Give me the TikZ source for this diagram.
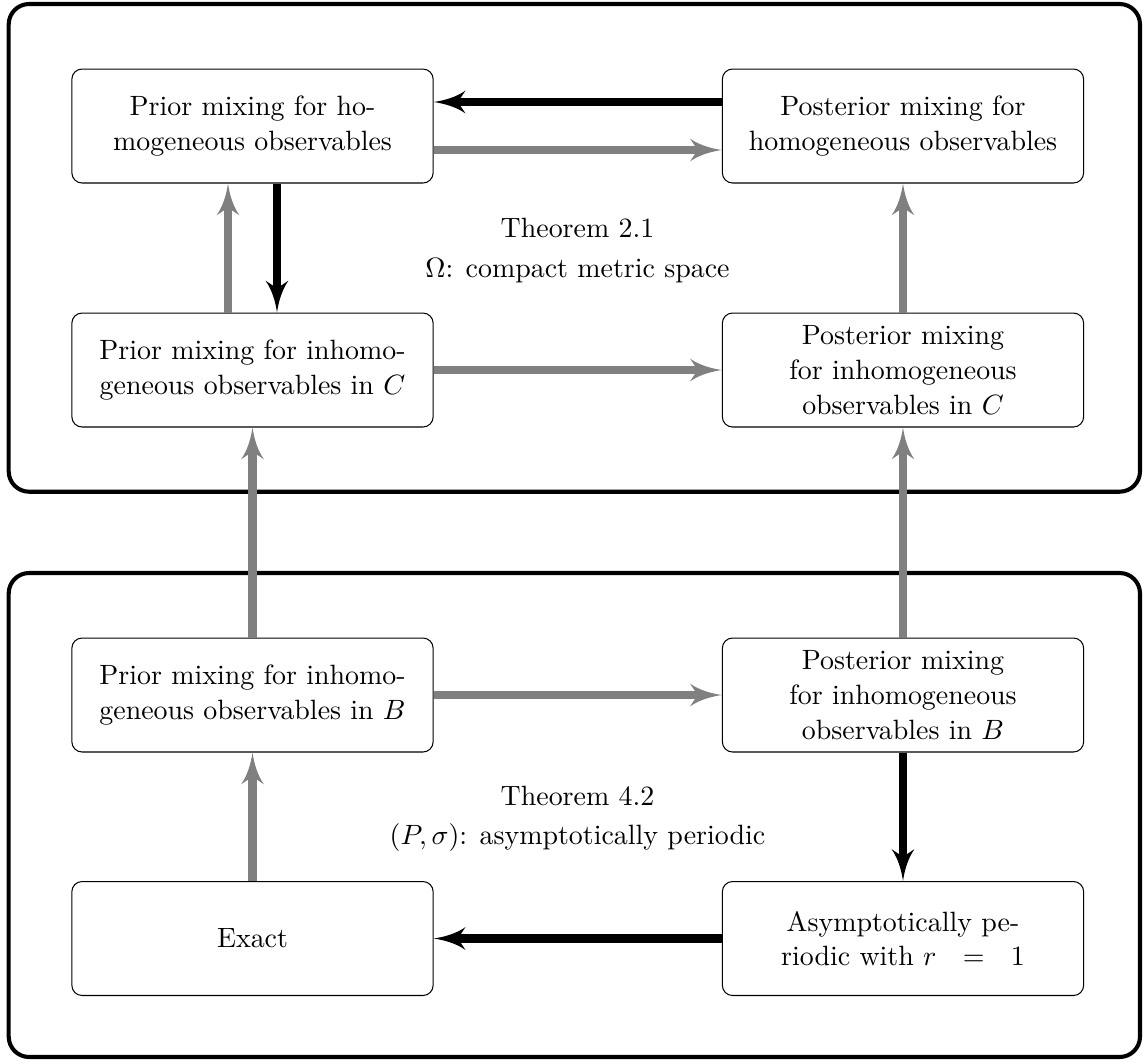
\documentclass[tikz,border=0pt]{standalone}
\usetikzlibrary{arrows.meta,calc}
\pgfdeclarearrow{
  name = CurvedStealth,
  parameters = {\the\pgfarrowlength,\the\pgfarrowwidth,\the\pgfarrowinset},
  setup code = {
    \pgfarrowssettipend{\pgfarrowlength}
    \pgfarrowssetlineend{\pgfarrowinset}
    \pgfarrowssetbackend{0pt}
    \pgfarrowshullpoint{\pgfarrowlength}{0pt}
    \pgfarrowsupperhullpoint{0pt}{.5\pgfarrowwidth}
    \pgfarrowssavethe\pgfarrowlength
    \pgfarrowssavethe\pgfarrowwidth
    \pgfarrowssavethe\pgfarrowinset
  },
  drawing code = {
    \pgfpathmoveto{\pgfqpoint{\pgfarrowlength}{0pt}}
    \pgfpathcurveto{\pgfqpoint{.7\pgfarrowlength}{.06\pgfarrowwidth}}{\pgfqpoint{.3\pgfarrowlength}{.2\pgfarrowwidth}}{\pgfqpoint{0pt}{.5\pgfarrowwidth}}
    \pgfpathlineto{\pgfqpoint{\pgfarrowinset}{0pt}}
    \pgfpathlineto{\pgfqpoint{0pt}{-.5\pgfarrowwidth}}
    \pgfpathcurveto{\pgfqpoint{.3\pgfarrowlength}{-.2\pgfarrowwidth}}{\pgfqpoint{.7\pgfarrowlength}{-.06\pgfarrowwidth}}{\pgfqpoint{\pgfarrowlength}{0pt}}
    \pgfpathclose
    \pgfusepathqfill
  },
  defaults = {length = 12.5pt, width = 9pt, inset = 3pt}
}
\begin{document}
\begin{tikzpicture}[x=0.3922pt, y=-0.3922pt,
  every node/.style={font=\fontsize{10.95pt}{13.6pt}\selectfont},
  stagebox/.style={draw, line width=0.4pt, rounded corners=4pt,
    minimum width=141.7pt, minimum height=44.7pt, align=center, inner sep=0pt},
  frame/.style={line width=1.6pt, rounded corners=8pt},
  blackarrow/.style={color=black, line width=3.2pt, -{CurvedStealth}},
  grayarrow/.style={color=gray, line width=3.2pt, -{CurvedStealth}},
  lbl/.style={anchor=base, inner sep=0pt}
]
\useasboundingbox (0,0) rectangle (1143,1061);

% outer frames
\draw[frame] (8.7,4) rectangle (1140,491.7);
\draw[frame] (8.7,573) rectangle (1140,1057);

% nodes
\node[stagebox] (L1) at (252.5,126) {Prior mixing for ho-\\mogeneous observables};
\node[stagebox] (R1) at (903,126) {Posterior mixing for\\homogeneous observables};
\node[stagebox] (L2) at (252.5,370) {Prior mixing for inhomo-\\geneous observables in $C$};
\node[stagebox] (R2) at (903,370) {Posterior mixing\\for inhomogeneous\\observables in $C$};
\node[stagebox] (L3) at (252.5,695) {Prior mixing for inhomo-\\geneous observables in $B$};
\node[stagebox] (R3) at (903,695) {Posterior mixing\\for inhomogeneous\\observables in $B$};
\node[stagebox] (L4) at (252.5,938.5) {Exact};
\node[stagebox] (R4) at (903,938.5) {Asymptotically pe-\\riodic with $r\mskip12mu=\mskip12mu1$};

% theorem labels
\node[lbl] (T21a) at (577.5,237) {Theorem 2.1};
\node[lbl] (T21b) at (577.5,277) {$\Omega$: compact metric space};
\node[lbl] (T42a) at (577.5,805) {Theorem 4.2};
\node[lbl] (T42b) at (577.5,844) {$(P,\sigma)$: asymptotically periodic};

% connectors
\draw[blackarrow] ($(R1.west)+(0,-24)$) -- ($(L1.east)+(0,-24)$);
\draw[grayarrow] ($(L1.east)+(0,24)$) -- ($(R1.west)+(0,24)$);
\draw[blackarrow] ($(L1.south)+(24.5,0)$) -- ($(L2.north)+(24.5,0)$);
\draw[grayarrow] ($(L2.north)+(-24.5,0)$) -- ($(L1.south)+(-24.5,0)$);
\draw[grayarrow] (L2.east) -- (R2.west);
\draw[grayarrow] (R2.north) -- (R1.south);
\draw[grayarrow] (L3.north) -- (L2.south);
\draw[grayarrow] (R3.north) -- (R2.south);
\draw[grayarrow] (L3.east) -- (R3.west);
\draw[blackarrow] (R3.south) -- (R4.north);
\draw[blackarrow] (R4.west) -- (L4.east);
\draw[grayarrow] (L4.north) -- (L3.south);
\end{tikzpicture}
\end{document}
